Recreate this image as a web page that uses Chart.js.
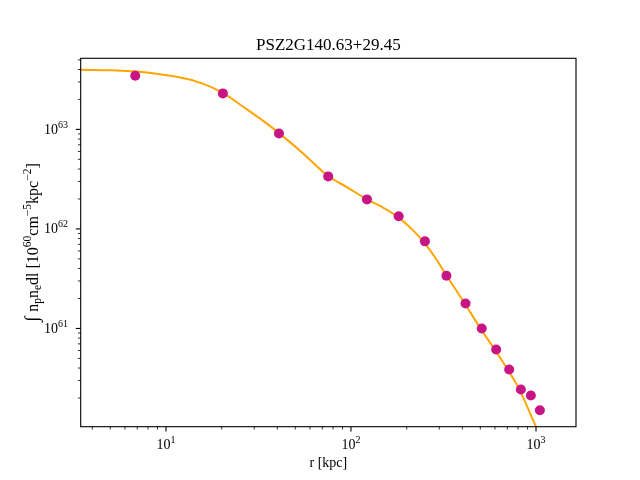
<!DOCTYPE html>
<html>
<head>
<meta charset="utf-8">
<script src="https://cdn.jsdelivr.net/npm/chart.js@4"></script>
<style>
  html, body { margin: 0; padding: 0; background: #fff; }
  #wrap { width: 640px; height: 480px; }
</style>
</head>
<body>
<div id="wrap"><canvas id="profile"></canvas></div>
<script>
// measured profile (points)
const rData = [6.82, 20.3, 40.8, 75.3, 122, 181, 251, 328, 416, 509, 609, 716, 828, 938, 1049];
const neData = [3.46e63, 2.3e63, 9.1e62, 3.37e62, 1.98e62, 1.34e62, 7.5e61, 3.38e61, 1.78e61, 1.0e61, 6.15e60, 3.87e60, 2.44e60, 2.12e60, 1.51e60];

// model curve
const modelR = [3.0, 3.47, 5.07, 6.78, 11.6, 15.5, 20.3, 26.6, 34.1, 41.0, 55.1, 75.1, 94.4, 122, 149, 179, 216, 248, 283, 327, 412, 501, 598, 703, 813, 1000, 1100];
const modelY = [4.0e63, 3.97e63, 3.92e63, 3.83e63, 3.36e63, 2.92e63, 2.33e63, 1.65e63, 1.19e63, 9.12e62, 5.74e62, 3.40e62, 2.65e62, 1.98e62, 1.64e62, 1.32e62, 9.73e61, 7.31e61, 5.25e61, 3.44e61, 1.78e61, 1.0e61, 6.15e60, 3.87e60, 2.44e60, 1.03e60, 6.9e59];

// axis ticks (major, labelled as 10^n)
const xMajor = [10, 100, 1000];
const xMajorExp = ['1', '2', '3'];
const yMajor = [1e61, 1e62, 1e63];
const yMajorExp = ['61', '62', '63'];

const titleText = 'PSZ2G140.63+29.45';

const SERIF = '"Liberation Serif", "DejaVu Serif", serif';

function richWidth(ctx, parts) {
  let w = 0;
  parts.forEach(p => {
    ctx.font = p.s + 'px ' + SERIF;
    w += ctx.measureText(p.t).width;
  });
  return w;
}

// draws text pieces with sub/superscripts; baseline alphabetic at y
function drawRich(ctx, parts, x, y, align) {
  const w = richWidth(ctx, parts);
  let cx = x;
  if (align === 'center') cx = x - w / 2;
  if (align === 'right') cx = x - w;
  ctx.textAlign = 'left';
  ctx.textBaseline = 'alphabetic';
  parts.forEach(p => {
    ctx.font = p.s + 'px ' + SERIF;
    ctx.fillText(p.t, cx, y + (p.dy || 0));
    cx += ctx.measureText(p.t).width;
  });
}

function pow10(exp) {
  return [{t: '10', s: 14}, {t: exp, s: 10, dy: -6}];
}

const mplAxes = {
  id: 'mplAxes',
  afterDraw(chart) {
    const ctx = chart.ctx;
    const a = chart.chartArea;
    const xs = chart.scales.x, ys = chart.scales.y;
    ctx.save();
    ctx.fillStyle = '#000';
    ctx.strokeStyle = '#000';

    // x ticks
    for (let e = 0; e <= 4; e++) {
      for (let m = 1; m <= 9; m++) {
        const v = m * Math.pow(10, e);
        if (v < xs.min || v > xs.max) continue;
        const px = xs.getPixelForValue(v);
        const major = m === 1;
        ctx.lineWidth = major ? 1.1 : 0.8;
        ctx.beginPath();
        ctx.moveTo(px, a.bottom);
        ctx.lineTo(px, a.bottom + (major ? 4.9 : 2.8));
        ctx.stroke();
      }
    }
    xMajor.forEach((v, i) => {
      const px = xs.getPixelForValue(v);
      drawRich(ctx, pow10(xMajorExp[i]), px, a.bottom + 22, 'center');
    });

    // y ticks
    for (let e = 59; e <= 64; e++) {
      for (let m = 1; m <= 9; m++) {
        const v = m * Math.pow(10, e);
        if (v < ys.min || v > ys.max) continue;
        const py = ys.getPixelForValue(v);
        const major = m === 1;
        ctx.lineWidth = major ? 1.1 : 0.8;
        ctx.beginPath();
        ctx.moveTo(a.left, py);
        ctx.lineTo(a.left - (major ? 4.9 : 2.8), py);
        ctx.stroke();
      }
    }
    yMajor.forEach((v, i) => {
      const py = ys.getPixelForValue(v);
      drawRich(ctx, pow10(yMajorExp[i]), a.left - 12.7, py + 4.5, 'right');
    });

    // frame
    ctx.lineWidth = 1.1;
    ctx.strokeRect(a.left, a.top, a.right - a.left, a.bottom - a.top);

    const midX = (a.left + a.right) / 2;
    // title
    drawRich(ctx, [{t: titleText, s: 17}], midX, 49.5, 'center');
    // axis labels
    drawRich(ctx, [{t: 'r [kpc]', s: 14}], midX, 467, 'center');

    const midY = (a.top + a.bottom) / 2;
    ctx.translate(38, midY);
    ctx.rotate(-Math.PI / 2);
    drawRich(ctx, [
      {t: '\u222B ', s: 19},
      {t: 'n', s: 16}, {t: 'p', s: 11.5, dy: 3},
      {t: 'n', s: 16}, {t: 'e', s: 11.5, dy: 3},
      {t: 'dl [10', s: 16}, {t: '60', s: 11.5, dy: -7},
      {t: 'cm', s: 16}, {t: '\u22125', s: 11.5, dy: -7},
      {t: 'kpc', s: 16}, {t: '\u22122', s: 11.5, dy: -7},
      {t: ']', s: 16}
    ], 0, 0, 'center');
    ctx.restore();
  }
};

new Chart(document.getElementById('profile'), {
  type: 'scatter',
  data: {
    datasets: [
      {
        label: 'data',
        data: rData.map((r, i) => ({x: r, y: neData[i]})),
        backgroundColor: '#C71585',
        borderColor: '#C71585',
        pointRadius: 5,
        pointBorderWidth: 0,
        showLine: false,
        order: 0,
      },
      {
        label: 'model',
        data: modelR.map((r, i) => ({x: r, y: modelY[i]})),
        borderColor: '#FFA500',
        borderWidth: 2,
        pointRadius: 0,
        showLine: true,
        tension: 0.3,
        clip: 0,
        order: 1,
      },
    ],
  },
  options: {
    responsive: true,
    maintainAspectRatio: false,
    animation: false,
    events: [],
    layout: {
      padding: {left: 0, right: 64, top: 58.3, bottom: 0},
    },
    plugins: {
      legend: {display: false},
      tooltip: {enabled: false},
      title: {display: false},
    },
    scales: {
      x: {
        type: 'logarithmic',
        min: 3.46,
        max: 1645,
        grid: {display: false},
        border: {display: false},
        ticks: {display: false},
        afterFit(scale) { scale.height = 53.3; },
      },
      y: {
        type: 'logarithmic',
        min: 1.03e60,
        max: 5.18e63,
        grid: {display: false},
        border: {display: false},
        ticks: {display: false},
        afterFit(scale) { scale.width = 80.7; },
      },
    },
  },
  plugins: [mplAxes],
});
</script>
</body>
</html>
